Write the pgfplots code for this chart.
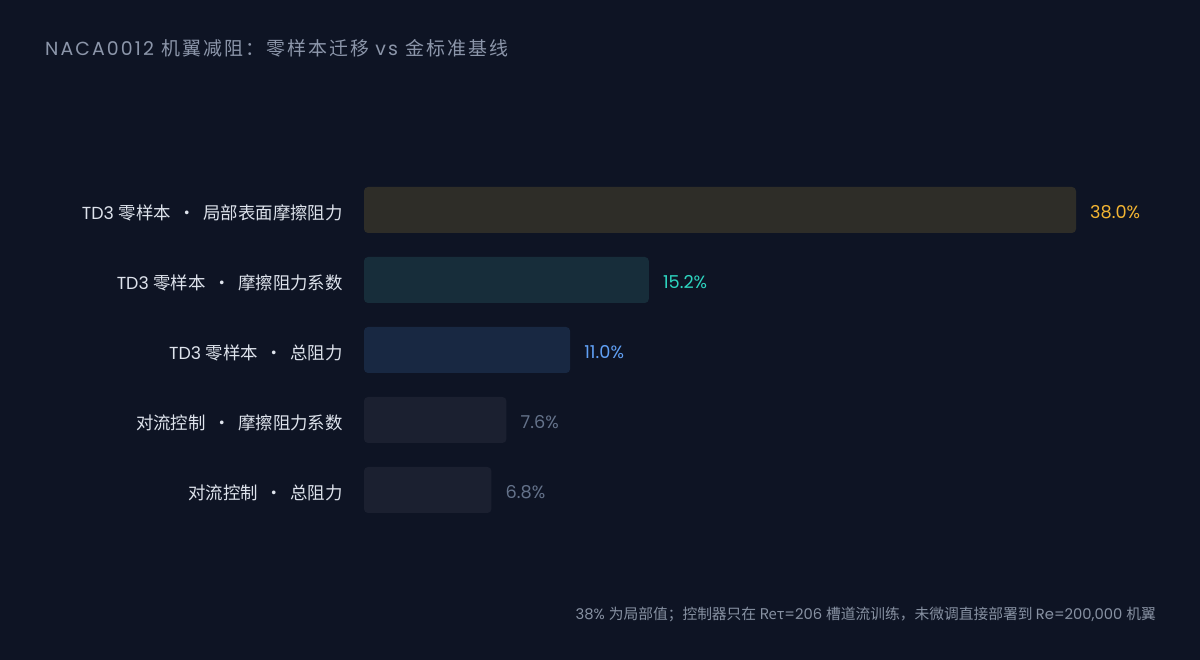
\documentclass[border=0pt]{standalone}
\usepackage{fontspec}
\usepackage{pgfplots}
\pgfplotsset{compat=1.18}
\setmainfont{Poppins}
\newfontfamily\cjk{Noto Sans CJK SC}
\newfontfamily\lat{Poppins}
\newfontfamily\cjkT[LetterSpace=11]{Noto Sans CJK SC}
\newfontfamily\latT[LetterSpace=11]{Poppins}
\newcommand{\sdot}{\hspace*{7.5bp}{\cjk ·}\hspace*{7.5bp}}
\definecolor{bgc}{RGB}{14,20,36}
\definecolor{titlec}{RGB}{140,150,170}
\definecolor{labc}{RGB}{222,227,236}
\definecolor{footc}{RGB}{135,145,162}
\definecolor{barA}{RGB}{46,45,40}
\definecolor{barB}{RGB}{23,45,58}
\definecolor{barC}{RGB}{24,40,66}
\definecolor{barD}{RGB}{27,32,48}
\definecolor{valA}{RGB}{242,180,50}
\definecolor{valB}{RGB}{45,212,191}
\definecolor{valC}{RGB}{96,160,245}
\definecolor{valD}{RGB}{100,114,138}
\begin{document}
\begin{tikzpicture}[x=1bp,y=1bp]
\fill[bgc] (0,0) rectangle (1200,660);
\node[anchor=base west, text=titlec, font=\fontsize{19}{21}\selectfont, inner sep=0pt] at (45,604)
  {\latT NACA0012 \cjkT 机翼减阻：零样本迁移 \latT vs \cjkT 金标准基线};
\node[anchor=base east, text=footc, font=\fontsize{14.8}{16}\selectfont, inner sep=0pt] at (1156,40)
  {\lat 38\% \cjk 为局部值；控制器只在 Reτ\lat=206 \cjk 槽道流训练，未微调直接部署到 \lat Re=200,000 \cjk 机翼};
\begin{axis}[
  at={(364bp,0bp)}, anchor=origin,
  x=18.737bp, y=1bp,
  xmin=0, xmax=44, ymin=0, ymax=660,
  axis line style={draw=none},
  xtick=\empty,
  ytick={170,240,310,380,450},
  yticklabels={
    {\cjk 对流控制\sdot 总阻力},
    {\cjk 对流控制\sdot 摩擦阻力系数},
    {\lat TD3 \cjk 零样本\sdot 总阻力},
    {\lat TD3 \cjk 零样本\sdot 摩擦阻力系数},
    {\lat TD3 \cjk 零样本\sdot 局部表面摩擦阻力}},
  major tick length=0pt,
  yticklabel style={font=\fontsize{17.5}{19}\selectfont, text=labc, anchor=east, inner sep=0pt, xshift=-21bp, yshift=-3bp},
  xbar, bar width=46bp, bar shift=0pt,
  clip=false,
  point meta=x,
  nodes near coords={\lat\pgfmathprintnumber[assume math mode=true,fixed,fixed zerofill,precision=1]{\pgfplotspointmeta}\%},
  every node near coord/.append style={anchor=west, inner sep=0pt, xshift=14bp, yshift=-2bp, font=\fontsize{17.8}{19}\selectfont},
]
\addplot[fill=barA, draw=none, rounded corners=4bp, every node near coord/.append style={text=valA}] coordinates {(38.0,450)};
\addplot[fill=barB, draw=none, rounded corners=4bp, every node near coord/.append style={text=valB}] coordinates {(15.2,380)};
\addplot[fill=barC, draw=none, rounded corners=4bp, every node near coord/.append style={text=valC}] coordinates {(11.0,310)};
\addplot[fill=barD, draw=none, rounded corners=4bp, every node near coord/.append style={text=valD}] coordinates {(7.6,240)};
\addplot[fill=barD, draw=none, rounded corners=4bp, every node near coord/.append style={text=valD}] coordinates {(6.8,170)};
\end{axis}
\end{tikzpicture}
\end{document}
